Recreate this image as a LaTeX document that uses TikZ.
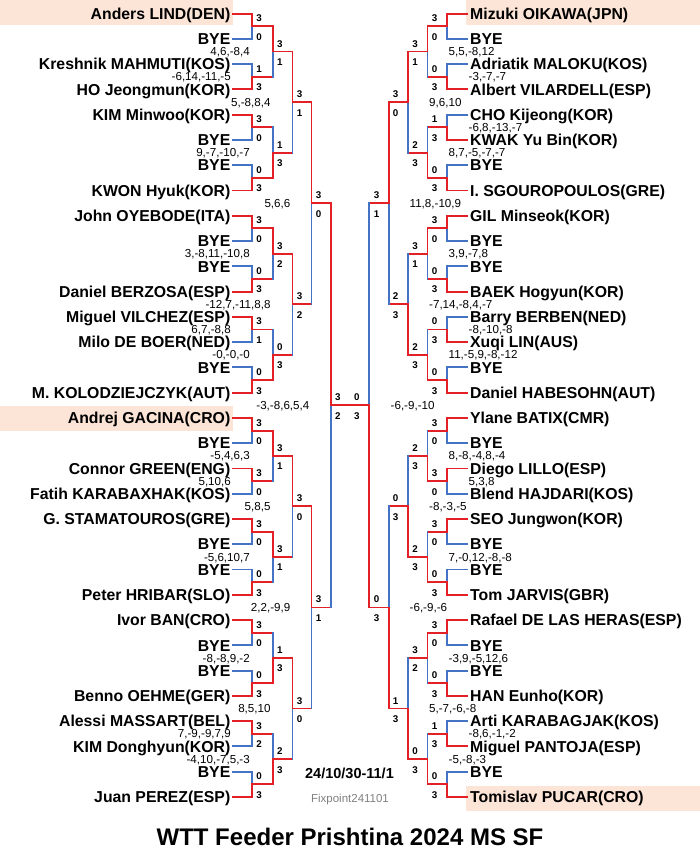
\documentclass[tikz,border=0pt]{standalone}
\usepackage{fontspec}
\setmainfont{Liberation Sans}
\definecolor{wred}{RGB}{226,32,38}
\definecolor{lblue}{RGB}{68,114,196}
\definecolor{seedbg}{RGB}{252,228,214}
\tikzset{
  wl/.style={draw=wred,line width=1.9pt,line cap=rect},
  ll/.style={draw=lblue,line width=1.9pt,line cap=rect},
  pname/.style={font=\fontsize{15.8}{18}\selectfont\bfseries,inner sep=0pt},
  sclab/.style={font=\fontsize{9.8}{11}\selectfont\bfseries,inner sep=0pt},
  gscore/.style={font=\fontsize{11.6}{13}\selectfont,inner sep=0pt},
}
% left match: #1 x, #2 next x, #3 prev x, #4 start index, #5 group size, #6 top score, #7 bottom score, #8 games
\newcommand\BrL[8]{%
  \pgfmathsetmacro\bYt{13.6+25.27*(#4+(#5/2-1)/2)}%
  \pgfmathsetmacro\bYb{13.6+25.27*(#4+#5/2+(#5/2-1)/2)}%
  \pgfmathsetmacro\bYm{13.6+25.27*(#4+(#5-1)/2)}%
  \ifnum#6>#7\relax
    \ifnum#5=2\relax\draw[ll] (233,\bYb) -- (#1,\bYb);\fi
    \draw[ll] (#1,\bYm) -- (#1,\bYb);
    \ifnum#5=2\relax\draw[wl] (233,\bYt) -- (#1,\bYt);\fi
    \draw[wl] (#1,\bYt) -- (#1,\bYm) -- (#2,\bYm);
  \else
    \ifnum#5=2\relax\draw[ll] (233,\bYt) -- (#1,\bYt);\fi
    \draw[ll] (#1,\bYt) -- (#1,\bYm);
    \ifnum#5=2\relax\draw[wl] (233,\bYb) -- (#1,\bYb);\fi
    \draw[wl] (#1,\bYb) -- (#1,\bYm) -- (#2,\bYm);
  \fi
  \node[sclab,anchor=base west] at (#1+4.2,\bYm-4.5) {#6};
  \node[sclab,anchor=base west] at (#1+4.2,\bYm+14) {#7};
  \if\relax\detokenize{#8}\relax\else
    \node[gscore,anchor=base east] at (#3-2,\bYm+4.1) {#8};
  \fi
}
\newcommand\BrR[8]{%
  \pgfmathsetmacro\bYt{13.6+25.27*(#4+(#5/2-1)/2)}%
  \pgfmathsetmacro\bYb{13.6+25.27*(#4+#5/2+(#5/2-1)/2)}%
  \pgfmathsetmacro\bYm{13.6+25.27*(#4+(#5-1)/2)}%
  \ifnum#6>#7\relax
    \ifnum#5=2\relax\draw[ll] (467,\bYb) -- (#1,\bYb);\fi
    \draw[ll] (#1,\bYm) -- (#1,\bYb);
    \ifnum#5=2\relax\draw[wl] (467,\bYt) -- (#1,\bYt);\fi
    \draw[wl] (#1,\bYt) -- (#1,\bYm) -- (#2,\bYm);
  \else
    \ifnum#5=2\relax\draw[ll] (467,\bYt) -- (#1,\bYt);\fi
    \draw[ll] (#1,\bYt) -- (#1,\bYm);
    \ifnum#5=2\relax\draw[wl] (467,\bYb) -- (#1,\bYb);\fi
    \draw[wl] (#1,\bYb) -- (#1,\bYm) -- (#2,\bYm);
  \fi
  \node[sclab,anchor=base east] at (#1-9.5,\bYm-4.5) {#6};
  \node[sclab,anchor=base east] at (#1-9.5,\bYm+14) {#7};
  \if\relax\detokenize{#8}\relax\else
    \node[gscore,anchor=base west] at (#3+1.5,\bYm+4.1) {#8};
  \fi
}
\begin{document}
\begin{tikzpicture}[x=1pt,y=-1pt]
\useasboundingbox (0,0) rectangle (700,863);
% seed highlights
\fill[seedbg] (0,0) rectangle (233,25.3);
\fill[seedbg] (0,406.4) rectangle (233,431.4);
\fill[seedbg] (466,0) rectangle (700,25.3);
\fill[seedbg] (466,785.5) rectangle (700,810.5);
% left names
\foreach \i/\n in {0/{Anders LIND(DEN)},1/{BYE},2/{Kreshnik MAHMUTI(KOS)},3/{HO Jeongmun(KOR)},
 4/{KIM Minwoo(KOR)},5/{BYE},6/{BYE},7/{KWON Hyuk(KOR)},
 8/{John OYEBODE(ITA)},9/{BYE},10/{BYE},11/{Daniel BERZOSA(ESP)},
 12/{Miguel VILCHEZ(ESP)},13/{Milo DE BOER(NED)},14/{BYE},15/{M. KOLODZIEJCZYK(AUT)},
 16/{Andrej GACINA(CRO)},17/{BYE},18/{Connor GREEN(ENG)},19/{Fatih KARABAXHAK(KOS)},
 20/{G. STAMATOUROS(GRE)},21/{BYE},22/{BYE},23/{Peter HRIBAR(SLO)},
 24/{Ivor BAN(CRO)},25/{BYE},26/{BYE},27/{Benno OEHME(GER)},
 28/{Alessi MASSART(BEL)},29/{KIM Donghyun(KOR)},30/{BYE},31/{Juan PEREZ(ESP)}}
 \node[pname,anchor=base east] (L\i) at (230.5,{13.6+25.27*\i+5.7}) {\n};
% right names
\foreach \i/\n in {0/{Mizuki OIKAWA(JPN)},1/{BYE},2/{Adriatik MALOKU(KOS)},3/{Albert VILARDELL(ESP)},
 4/{CHO Kijeong(KOR)},5/{KWAK Yu Bin(KOR)},6/{BYE},7/{I. SGOUROPOULOS(GRE)},
 8/{GIL Minseok(KOR)},9/{BYE},10/{BYE},11/{BAEK Hogyun(KOR)},
 12/{Barry BERBEN(NED)},13/{Xuqi LIN(AUS)},14/{BYE},15/{Daniel HABESOHN(AUT)},
 16/{Ylane BATIX(CMR)},17/{BYE},18/{Diego LILLO(ESP)},19/{Blend HAJDARI(KOS)},
 20/{SEO Jungwon(KOR)},21/{BYE},22/{BYE},23/{Tom JARVIS(GBR)},
 24/{Rafael DE LAS HERAS(ESP)},25/{BYE},26/{BYE},27/{HAN Eunho(KOR)},
 28/{Arti KARABAGJAK(KOS)},29/{Miguel PANTOJA(ESP)},30/{BYE},31/{Tomislav PUCAR(CRO)}}
 \node[pname,anchor=base west] (R\i) at (470,{13.6+25.27*\i+5.7}) {\n};
% ---------- left bracket ----------
\BrL{252}{272.7}{233}{0}{2}{3}{0}{}
\BrL{252}{272.7}{233}{2}{2}{1}{3}{-6,14,-11,-5}
\BrL{252}{272.7}{233}{4}{2}{3}{0}{}
\BrL{252}{272.7}{233}{6}{2}{0}{3}{}
\BrL{252}{272.7}{233}{8}{2}{3}{0}{}
\BrL{252}{272.7}{233}{10}{2}{0}{3}{}
\BrL{252}{272.7}{233}{12}{2}{3}{1}{6,7,-8,8}
\BrL{252}{272.7}{233}{14}{2}{0}{3}{}
\BrL{252}{272.7}{233}{16}{2}{3}{0}{}
\BrL{252}{272.7}{233}{18}{2}{3}{0}{5,10,6}
\BrL{252}{272.7}{233}{20}{2}{3}{0}{}
\BrL{252}{272.7}{233}{22}{2}{0}{3}{}
\BrL{252}{272.7}{233}{24}{2}{3}{0}{}
\BrL{252}{272.7}{233}{26}{2}{0}{3}{}
\BrL{252}{272.7}{233}{28}{2}{3}{2}{7,-9,-9,7,9}
\BrL{252}{272.7}{233}{30}{2}{0}{3}{}
\BrL{272.7}{292.5}{252}{0}{4}{3}{1}{4,6,-8,4}
\BrL{272.7}{292.5}{252}{4}{4}{1}{3}{9,-7,-10,-7}
\BrL{272.7}{292.5}{252}{8}{4}{3}{2}{3,-8,11,-10,8}
\BrL{272.7}{292.5}{252}{12}{4}{0}{3}{-0,-0,-0}
\BrL{272.7}{292.5}{252}{16}{4}{3}{1}{-5,4,6,3}
\BrL{272.7}{292.5}{252}{20}{4}{3}{1}{-5,6,10,7}
\BrL{272.7}{292.5}{252}{24}{4}{1}{3}{-8,-8,9,-2}
\BrL{272.7}{292.5}{252}{28}{4}{2}{3}{-4,10,-7,5,-3}
\BrL{292.5}{311.5}{272.7}{0}{8}{3}{1}{5,-8,8,4}
\BrL{292.5}{311.5}{272.7}{8}{8}{3}{2}{-12,7,-11,8,8}
\BrL{292.5}{311.5}{272.7}{16}{8}{3}{0}{5,8,5}
\BrL{292.5}{311.5}{272.7}{24}{8}{3}{0}{8,5,10}
\BrL{311.5}{330.7}{292.5}{0}{16}{3}{0}{5,6,6}
\BrL{311.5}{330.7}{292.5}{16}{16}{3}{1}{2,2,-9,9}
\BrL{330.7}{369.3}{311.5}{0}{32}{3}{2}{-3,-8,6,5,4}
% ---------- right bracket ----------
\BrR{447}{427.5}{467}{0}{2}{3}{0}{}
\BrR{447}{427.5}{467}{2}{2}{0}{3}{-3,-7,-7}
\BrR{447}{427.5}{467}{4}{2}{1}{3}{-6,8,-13,-7}
\BrR{447}{427.5}{467}{6}{2}{0}{3}{}
\BrR{447}{427.5}{467}{8}{2}{3}{0}{}
\BrR{447}{427.5}{467}{10}{2}{0}{3}{}
\BrR{447}{427.5}{467}{12}{2}{0}{3}{-8,-10,-8}
\BrR{447}{427.5}{467}{14}{2}{0}{3}{}
\BrR{447}{427.5}{467}{16}{2}{3}{0}{}
\BrR{447}{427.5}{467}{18}{2}{3}{0}{5,3,8}
\BrR{447}{427.5}{467}{20}{2}{3}{0}{}
\BrR{447}{427.5}{467}{22}{2}{0}{3}{}
\BrR{447}{427.5}{467}{24}{2}{3}{0}{}
\BrR{447}{427.5}{467}{26}{2}{0}{3}{}
\BrR{447}{427.5}{467}{28}{2}{1}{3}{-8,6,-1,-2}
\BrR{447}{427.5}{467}{30}{2}{0}{3}{}
\BrR{427.5}{408}{447}{0}{4}{3}{1}{5,5,-8,12}
\BrR{427.5}{408}{447}{4}{4}{2}{3}{8,7,-5,-7,-7}
\BrR{427.5}{408}{447}{8}{4}{3}{1}{3,9,-7,8}
\BrR{427.5}{408}{447}{12}{4}{2}{3}{11,-5,9,-8,-12}
\BrR{427.5}{408}{447}{16}{4}{2}{3}{8,-8,-4,8,-4}
\BrR{427.5}{408}{447}{20}{4}{2}{3}{7,-0,12,-8,-8}
\BrR{427.5}{408}{447}{24}{4}{3}{2}{-3,9,-5,12,6}
\BrR{427.5}{408}{447}{28}{4}{0}{3}{-5,-8,-3}
\BrR{408}{389}{427.5}{0}{8}{3}{0}{9,6,10}
\BrR{408}{389}{427.5}{8}{8}{2}{3}{-7,14,-8,4,-7}
\BrR{408}{389}{427.5}{16}{8}{0}{3}{-8,-3,-5}
\BrR{408}{389}{427.5}{24}{8}{1}{3}{5,-7,-6,-8}
\BrR{389}{369.3}{408}{0}{16}{3}{1}{11,8,-10,9}
\BrR{389}{369.3}{408}{16}{16}{0}{3}{-6,-9,-6}
\BrR{369.3}{330.7}{389}{0}{32}{0}{3}{-6,-9,-10}
% texts
\node[font=\fontsize{14.5}{16}\selectfont\bfseries,inner sep=0pt] (date) at (349.5,773) {24/10/30-11/1};
\node[font=\fontsize{11.5}{13}\selectfont,text=gray,inner sep=0pt,anchor=base] (fp) at (350,802.5) {Fixpoint241101};
\node[font=\fontsize{24}{28}\selectfont\bfseries,inner sep=0pt] (title) at (350,837) {WTT Feeder Prishtina 2024 MS SF};
\end{tikzpicture}
\end{document}
